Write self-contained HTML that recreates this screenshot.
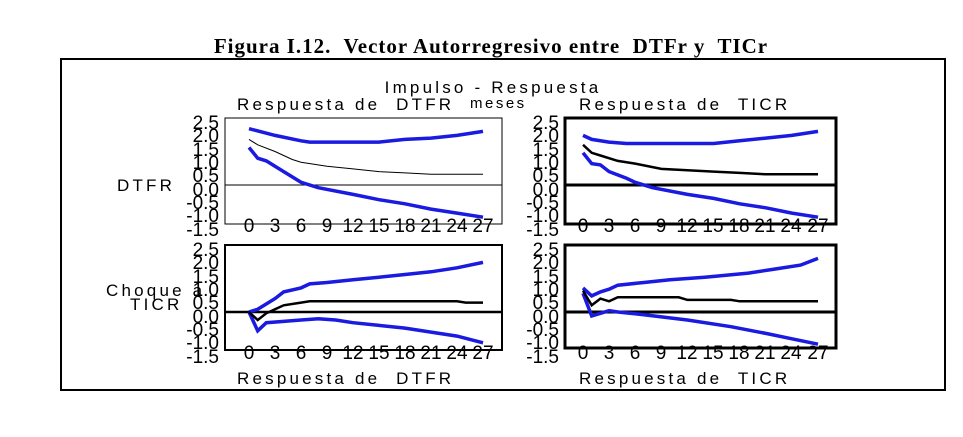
<!DOCTYPE html>
<html><head><meta charset="utf-8"><style>
body{margin:0;background:#fff;width:963px;height:437px;overflow:hidden}
svg{position:absolute;left:0;top:0}
text{white-space:pre}
.t{font-family:"Liberation Sans",sans-serif;font-size:17px;letter-spacing:3.2px;fill:#000}
.y{font-family:"Liberation Sans",sans-serif;font-size:19px;fill:#000;text-anchor:end}
.x{font-family:"Liberation Sans",sans-serif;font-size:19px;fill:#000;text-anchor:middle}
</style></head><body>
<svg width="963" height="437" viewBox="0 0 963 437" xmlns="http://www.w3.org/2000/svg">
<text x="491" y="53" text-anchor="middle" style="font-family:'Liberation Serif',serif;font-weight:bold;font-size:21px;letter-spacing:1px">Figura I.12.  Vector Autorregresivo entre  DTFr y  TICr</text>
<rect x="61" y="59" width="884" height="331" fill="none" stroke="#000" stroke-width="2"/>
<text class="t" x="493" y="93" text-anchor="middle">Impulso - Respuesta</text>
<text class="t" x="237" y="110">Respuesta de  DTFR</text>
<text class="t" x="470" y="108" style="font-size:15px;letter-spacing:2.5px">meses</text>
<text class="t" x="579" y="110">Respuesta de  TICR</text>
<text class="t" x="237" y="384">Respuesta de  DTFR</text>
<text class="t" x="579" y="384">Respuesta de  TICR</text>
<text class="t" x="117" y="191">DTFR</text>
<text class="t" x="106" y="296">Choque a</text>
<text class="t" x="130" y="310">TICR</text>
<g id="g"></g>
<g class="y">
<text x="219" y="129">2.5</text><text x="219" y="142">2.0</text><text x="219" y="156">1.5</text><text x="219" y="169">1.0</text><text x="219" y="182">0.5</text><text x="219" y="196">0.0</text><text x="219" y="209">-0.5</text><text x="219" y="222">-1.0</text><text x="219" y="236">-1.5</text>
<text x="559" y="129">2.5</text><text x="559" y="142">2.0</text><text x="559" y="156">1.5</text><text x="559" y="169">1.0</text><text x="559" y="182">0.5</text><text x="559" y="196">0.0</text><text x="559" y="209">-0.5</text><text x="559" y="222">-1.0</text><text x="559" y="236">-1.5</text>
<text x="219" y="256">2.5</text><text x="219" y="269">2.0</text><text x="219" y="283">1.5</text><text x="219" y="296">1.0</text><text x="219" y="309">0.5</text><text x="219" y="323">0.0</text><text x="219" y="336">-0.5</text><text x="219" y="349">-1.0</text><text x="219" y="363">-1.5</text>
<text x="559" y="256">2.5</text><text x="559" y="269">2.0</text><text x="559" y="283">1.5</text><text x="559" y="296">1.0</text><text x="559" y="309">0.5</text><text x="559" y="323">0.0</text><text x="559" y="336">-0.5</text><text x="559" y="349">-1.0</text><text x="559" y="363">-1.5</text>
</g>
<g class="x">
<text x="249" y="232">0</text><text x="275" y="232">3</text><text x="301" y="232">6</text><text x="327" y="232">9</text><text x="353" y="232">12</text><text x="379" y="232">15</text><text x="405" y="232">18</text><text x="431" y="232">21</text><text x="457" y="232">24</text><text x="483" y="232">27</text>
<text x="583" y="232">0</text><text x="609" y="232">3</text><text x="635" y="232">6</text><text x="661" y="232">9</text><text x="687" y="232">12</text><text x="713" y="232">15</text><text x="739" y="232">18</text><text x="765" y="232">21</text><text x="791" y="232">24</text><text x="818" y="232">27</text>
<text x="249" y="359">0</text><text x="275" y="359">3</text><text x="301" y="359">6</text><text x="327" y="359">9</text><text x="353" y="359">12</text><text x="379" y="359">15</text><text x="405" y="359">18</text><text x="431" y="359">21</text><text x="457" y="359">24</text><text x="483" y="359">27</text>
<text x="583" y="359">0</text><text x="609" y="359">3</text><text x="635" y="359">6</text><text x="661" y="359">9</text><text x="687" y="359">12</text><text x="713" y="359">15</text><text x="739" y="359">18</text><text x="765" y="359">21</text><text x="791" y="359">24</text><text x="818" y="359">27</text>
</g>
</svg>
<script>
var P=[
{l:225,r:502,t:118,b:224,z:185,x0:249,fw:1,zw:1,mw:1,
 u:[[0,2.1],[3,1.85],[6,1.65],[7,1.6],[15,1.6],[18,1.7],[21,1.75],[24,1.85],[27,2.0]],
 m:[[0,1.7],[1,1.5],[3,1.25],[5,0.95],[6,0.85],[9,0.7],[12,0.6],[15,0.5],[18,0.45],[21,0.4],[27,0.4]],
 d:[[0,1.4],[1,1.0],[2,0.9],[4,0.5],[6,0.1],[8,-0.1],[12,-0.35],[15,-0.55],[18,-0.7],[21,-0.9],[24,-1.05],[27,-1.2]]},
{l:565,r:836,t:118,b:224,z:185,x0:583,fw:3,zw:3,mw:2.5,
 u:[[0,1.85],[1,1.7],[3,1.6],[5,1.55],[15,1.55],[18,1.65],[21,1.75],[24,1.85],[27,2.0]],
 m:[[0,1.5],[1,1.2],[2,1.1],[4,0.9],[6,0.8],[9,0.6],[12,0.55],[15,0.5],[18,0.45],[21,0.4],[27,0.4]],
 d:[[0,1.2],[1,0.8],[2,0.75],[3,0.5],[5,0.25],[6,0.1],[8,-0.1],[12,-0.35],[15,-0.5],[18,-0.7],[21,-0.85],[24,-1.05],[27,-1.2]]},
{l:225,r:502,t:245,b:350,z:312,x0:249,fw:2,zw:2.5,mw:2.5,
 u:[[0,0],[1,0.1],[3,0.5],[4,0.75],[6,0.9],[7,1.05],[9,1.1],[12,1.2],[15,1.3],[18,1.4],[21,1.5],[24,1.65],[27,1.85]],
 m:[[0,0],[1,-0.3],[2,-0.05],[3,0.1],[4,0.25],[6,0.35],[7,0.4],[24,0.4],[25,0.35],[27,0.35]],
 d:[[0,0],[1,-0.7],[2,-0.4],[4,-0.35],[6,-0.3],[8,-0.25],[10,-0.3],[12,-0.4],[15,-0.5],[18,-0.6],[21,-0.75],[24,-0.9],[27,-1.15]]},
{l:565,r:836,t:245,b:348,z:312,x0:583,fw:3,zw:3,mw:2.5,
 u:[[0,0.9],[1,0.6],[2,0.75],[3,0.85],[4,1.0],[7,1.1],[10,1.2],[14,1.3],[19,1.45],[22,1.6],[25,1.75],[27,2.0]],
 m:[[0,0.8],[1,0.25],[2,0.5],[3,0.4],[4,0.55],[11,0.55],[12,0.45],[17,0.45],[18,0.4],[27,0.4]],
 d:[[0,0.7],[1,-0.15],[2,-0.05],[3,0.05],[4,0],[7,-0.1],[12,-0.3],[17,-0.55],[21,-0.8],[24,-1.0],[27,-1.2]]}];
var s='';
P.forEach(function(p){
 var k=(p.z-p.t)/2.5, dx=(p.x0===249?234:235)/27;
 function pl(a,c,w){return '<polyline fill="none" stroke="'+c+'" stroke-width="'+w+'" points="'+a.map(function(q){return (p.x0+q[0]*dx).toFixed(1)+','+(p.z-q[1]*k).toFixed(1)}).join(' ')+'"/>';}
 s+='<rect x="'+p.l+'" y="'+p.t+'" width="'+(p.r-p.l)+'" height="'+(p.b-p.t)+'" fill="none" stroke="#000" stroke-width="'+p.fw+'"/>';
 s+='<line x1="'+p.l+'" x2="'+p.r+'" y1="'+p.z+'" y2="'+p.z+'" stroke="#000" stroke-width="'+p.zw+'"/>';
 s+=pl(p.u,'#1a1ae0',3.5)+pl(p.d,'#1a1ae0',3.5)+pl(p.m,'#000',p.mw);
});
document.getElementById('g').innerHTML=s;
</script>
</body></html>
